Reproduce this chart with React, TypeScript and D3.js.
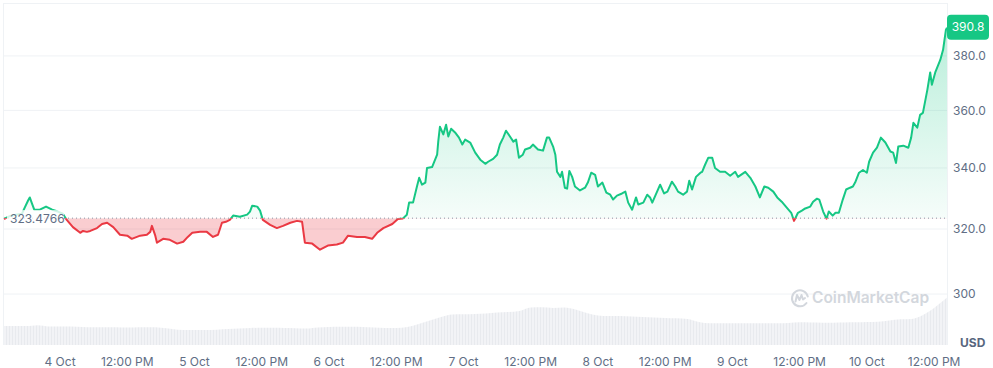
import React from 'react';
import * as d3 from 'd3';

// 7D price, hours counted from 3 Oct 14:00 (UTC)
const START = Date.UTC(2024, 9, 3, 14, 0);
const END_HOURS = 168.3;
const BASELINE = 323.4766;
const LAST_PRICE = 390.8;

const hours = [
  0, 1.1, 2.1, 3.2, 3.7, 4.3, 4.6, 5.0, 5.4, 6.4,
  7.5, 8.6, 9.6, 10.5, 11.2, 12.3, 13.6, 14.1, 14.8, 15.4,
  16.6, 17.5, 18.4, 19.5, 20.7, 22.0, 22.8, 24.3, 25.5, 26.1,
  26.4, 27.0, 27.3, 28.4, 29.6, 30.9, 32.0, 32.8, 33.6, 35.0,
  36.2, 37.3, 38.2, 38.9, 39.6, 40.3, 40.9, 42.1, 43.4, 43.9,
  44.3, 45.2, 45.7, 46.2, 47.5, 48.7, 49.8, 51.1, 52.3, 53.2,
  53.7, 55.0, 56.4, 57.8, 59.4, 60.5, 61.4, 63.0, 64.4, 65.7,
  66.6, 67.7, 69.3, 70.3, 71.2, 71.9, 72.3, 73.0, 73.7, 74.1,
  74.6, 75.2, 75.5, 76.4, 77.3, 77.5, 77.8, 78.4, 78.9, 79.3,
  79.8, 80.5, 81.2, 81.8, 82.3, 83.2, 84.1, 85.0, 85.9, 86.4,
  87.3, 88.0, 88.5, 89.1, 89.6, 90.3, 90.9, 91.4, 91.9, 92.6,
  93.0, 93.9, 94.4, 95.3, 96.2, 96.9, 97.3, 98.0, 98.4, 98.7,
  99.3, 99.6, 100.1, 100.5, 100.9, 101.4, 101.9, 102.8, 103.7, 104.2,
  104.8, 105.5, 106.0, 106.8, 107.5, 108.2, 108.7, 109.4, 110.3, 110.9,
  111.4, 112.1, 112.8, 113.2, 114.1, 114.8, 115.3, 115.7, 117.1, 117.8,
  118.4, 119.2, 119.8, 120.3, 121.2, 121.9, 122.3, 122.8, 123.5, 124.3,
  124.6, 125.1, 125.7, 126.4, 126.9, 127.8, 128.7, 129.6, 130.5, 131.0,
  132.3, 133.2, 134.1, 134.9, 135.7, 136.4, 137.3, 138.0, 138.8, 139.7,
  140.5, 141.0, 141.7, 142.4, 143.0, 143.9, 144.4, 145.1, 145.5, 146.2,
  146.8, 147.2, 147.9, 148.4, 149.0, 149.7, 150.3, 151.0, 151.5, 151.9,
  152.6, 153.3, 154.0, 154.4, 155.1, 155.8, 156.5, 157.3, 158.2, 158.7,
  159.2, 159.6, 160.5, 161.4, 161.9, 162.3, 163.0, 163.5, 164.0, 164.8,
  165.3, 165.6, 166.2, 167.1, 167.6, 168.1, 168.3,
];

const prices = [
  323.2, 324.2, 324.6, 324.9, 326.9, 329.2, 330.2, 328.2, 326.2, 326.2,
  327.2, 326.2, 325.6, 324.9, 322.9, 320.6, 318.8, 319.4, 319.1, 319.4,
  320.3, 321.6, 322.0, 320.6, 318.2, 317.9, 316.9, 317.9, 318.2, 319.1,
  321.0, 317.9, 315.7, 316.9, 316.6, 315.4, 316.0, 317.5, 318.8, 319.1,
  319.1, 317.5, 318.2, 322.0, 322.3, 322.9, 324.3, 323.9, 324.6, 325.6,
  327.5, 327.2, 325.9, 322.9, 321.3, 320.3, 321.0, 322.0, 322.6, 322.3,
  315.7, 315.4, 313.5, 314.8, 315.1, 315.7, 317.9, 317.5, 317.5, 316.9,
  318.8, 320.3, 321.6, 323.2, 323.4, 324.6, 328.5, 328.5, 333.8, 336.7,
  334.4, 335.1, 340.0, 340.3, 344.5, 349.0, 354.2, 351.5, 354.9, 350.8,
  353.5, 352.2, 350.4, 348.0, 349.7, 348.7, 345.2, 342.8, 341.4, 342.1,
  343.1, 344.5, 348.0, 350.4, 352.8, 350.8, 349.0, 349.7, 343.5, 344.5,
  346.3, 346.9, 348.0, 346.3, 345.9, 350.4, 350.4, 347.3, 344.5, 338.7,
  337.0, 338.7, 333.4, 333.1, 339.0, 337.0, 333.8, 332.5, 333.4, 335.1,
  338.4, 337.7, 333.8, 335.1, 331.8, 331.1, 329.5, 330.8, 331.5, 332.1,
  328.5, 326.2, 330.2, 327.9, 328.5, 331.1, 330.2, 328.5, 334.4, 331.5,
  332.1, 335.4, 333.8, 332.1, 331.1, 332.1, 335.7, 332.8, 337.0, 338.4,
  338.7, 341.0, 343.5, 343.5, 340.0, 338.7, 338.7, 337.4, 338.7, 337.0,
  338.7, 336.7, 333.8, 330.2, 333.8, 333.4, 332.1, 330.2, 328.8, 326.9,
  325.2, 322.6, 325.2, 325.9, 326.6, 327.2, 328.8, 329.8, 329.5, 325.6,
  323.3, 325.6, 324.3, 325.2, 325.2, 329.5, 332.8, 333.4, 333.8, 335.1,
  338.4, 339.3, 338.4, 342.1, 345.2, 346.9, 350.4, 348.7, 345.6, 345.2,
  341.7, 347.3, 347.6, 346.9, 350.4, 355.6, 353.9, 358.4, 359.1, 367.5,
  373.8, 369.3, 373.8, 378.5, 382.3, 389.9, 390.8,
];

// volume, one value every 2 hours (relative units)
const VOLUME_STEP = 2;
const volumes = [
  31.7, 31.7, 31.5, 33, 31, 30.8, 30.8, 30, 29.6, 29.5,
  29.5, 29, 29.5, 29.5, 28.8, 26.7, 25, 25, 25, 25.5,
  26.7, 27.5, 28.3, 28.8, 28.8, 28.3, 28, 27.5, 29.2, 30,
  30.5, 30.5, 30, 29.2, 28.3, 28.3, 30, 35, 40.8, 46.7,
  50.8, 51.2, 51.7, 52.5, 54.2, 55, 56.7, 62.5, 62.8, 61.7,
  62.5, 59.2, 53.3, 49.2, 48.3, 48.3, 47.5, 46.7, 45.8, 45,
  44.5, 43.3, 38.3, 36.2, 36.2, 36.2, 36.2, 36.2, 36.2, 36.2,
  36.7, 37.8, 37.5, 37.2, 37.2, 37.5, 37.8, 38.3, 38.8, 40.8,
  42.8, 43.3, 50, 61.7, 76.7,
];

const yTicks = [300, 320, 340, 360, 380];
const yTickLabels = ['300', '320.0', '340.0', '360.0', '380.0'];

const GREEN = '#16c784';
const RED = '#ea3943';
const TEXT = '#616e85';
const GRID = '#eff2f5';
const FONT = 'Inter, "Noto Sans", sans-serif';

const hourMs = 3600 * 1000;

export default function App() {
  const left = 4;
  const right = 947;
  const top = 3;
  const bottom = 345;

  const x = d3.scaleUtc()
    .domain([new Date(START), new Date(START + END_HOURS * hourMs)])
    .range([left, right]);
  const y = d3.scaleLog().domain([285.2, 400.5]).range([bottom, top]);
  const vy = d3.scaleLinear().domain([0, 100]).range([bottom, bottom - 60]);

  const points = hours.map((h, i) => ({ t: new Date(START + h * hourMs), v: prices[i] }))
    .filter(d => d.v !== undefined);
  const baseY = y(BASELINE);

  const line = d3.line<any>().x(d => x(d.t)).y(d => y(d.v));
  const area = d3.area<any>().x(d => x(d.t)).y0(baseY).y1(d => y(d.v));

  const xTicks = d3.utcHour.every(12)!.range(
    new Date(Date.UTC(2024, 9, 4, 0)),
    new Date(START + END_HOURS * hourMs)
  );
  const fmtDay = d3.utcFormat('%-d %b');
  const fmtTime = d3.utcFormat('%-I:%M %p');

  const volData = volumes.map((v, i) => ({ t: new Date(START + i * VOLUME_STEP * hourMs), v }));
  const volArea = d3.area<any>()
    .x(d => Math.min(right, x(d.t)))
    .y0(bottom)
    .y1(d => vy(d.v))
    .curve(d3.curveMonotoneX);
  const volExt = [...volData, { t: new Date(START + END_HOURS * hourMs), v: volumes[volumes.length - 1] + 2 }];

  const lastY = y(LAST_PRICE);

  return (
    <div style={{ position: 'absolute', left: 0, top: 0 }}>
      <svg width={993} height={368} style={{ display: 'block', fontFamily: FONT }}>
        <defs>
          <clipPath id="above">
            <rect x={0} y={0} width={993} height={baseY} />
          </clipPath>
          <clipPath id="below">
            <rect x={0} y={baseY} width={993} height={368 - baseY} />
          </clipPath>
          <linearGradient id="greenFill" gradientUnits="userSpaceOnUse" x1={0} y1={lastY} x2={0} y2={baseY}>
            <stop offset="0%" stopColor={GREEN} stopOpacity={0.3} />
            <stop offset="100%" stopColor={GREEN} stopOpacity={0.04} />
          </linearGradient>
          <pattern id="volStripe" width={3} height={10} patternUnits="userSpaceOnUse">
            <rect width={3} height={10} fill="#f2f3f6" />
            <rect width={1} height={10} fill="#e8eaee" />
          </pattern>
        </defs>

        {/* grid */}
        {yTicks.map(t => (
          <line key={t} x1={left} x2={right} y1={y(t)} y2={y(t)} stroke={GRID} strokeWidth={1} />
        ))}
        <line x1={left - 0.5} x2={left - 0.5} y1={top} y2={bottom} stroke={GRID} />
        <line x1={left} x2={right} y1={top + 0.5} y2={top + 0.5} stroke={GRID} />
        <line x1={right + 0.5} x2={right + 0.5} y1={top} y2={bottom} stroke={GRID} />

        {/* volume */}
        <path d={volArea(volExt) || ''} fill="url(#volStripe)" />

        {/* watermark */}
        <g transform="translate(800,298)" fill="none" stroke="#d3d7dd" strokeWidth={2} strokeLinecap="round" strokeLinejoin="round">
          <path d="M 6.5 5 A 8 8 0 1 1 7.8 -1.5" />
          <path d="M -4.5 3.5 L -3 -3 L -0.5 2 L 1.5 -3 L 3 1.5 L 5 0" />
        </g>
        <text x={812} y={303} fontSize={15.5} fontWeight={600} fill="#d3d7dd">CoinMarketCap</text>

        {/* price areas */}
        <path d={area(points) || ''} fill="url(#greenFill)" clipPath="url(#above)" />
        <path d={area(points) || ''} fill={RED} fillOpacity={0.25} clipPath="url(#below)" />

        {/* baseline */}
        <line x1={left} x2={right} y1={baseY} y2={baseY} stroke="#8a93a3" strokeWidth={1} strokeDasharray="1 3" />

        {/* price lines */}
        <path d={line(points) || ''} fill="none" stroke={GREEN} strokeWidth={2} strokeLinejoin="round" clipPath="url(#above)" />
        <path d={line(points) || ''} fill="none" stroke={RED} strokeWidth={2} strokeLinejoin="round" clipPath="url(#below)" />

        {/* baseline label */}
        <rect x={7} y={baseY - 8} width={57} height={16} fill="#ffffff" fillOpacity={0.8} />
        <text x={10} y={baseY + 4.5} fontSize={12} fill={TEXT}>{BASELINE.toFixed(4)}</text>

        {/* y axis labels */}
        {yTicks.map((t, i) => (
          <text key={t} x={953} y={y(t) + 4.3} fontSize={12} fill={TEXT}>{yTickLabels[i]}</text>
        ))}
        <text x={960} y={347} fontSize={12} fontWeight={700} fill="#58667e">USD</text>

        {/* last price tag */}
        <rect x={947} y={lastY - 13} width={42} height={25} rx={4} fill={GREEN} />
        <text x={968} y={lastY + 3.5} fontSize={12} fill="#ffffff" textAnchor="middle">{LAST_PRICE.toFixed(1)}</text>

        {/* x axis labels */}
        {xTicks.map((d, i) => (
          <text key={i} x={x(d)} y={365.5} fontSize={12} fill={TEXT} textAnchor="middle">
            {d.getUTCHours() === 0 ? fmtDay(d) : fmtTime(d)}
          </text>
        ))}
      </svg>
    </div>
  );
}
